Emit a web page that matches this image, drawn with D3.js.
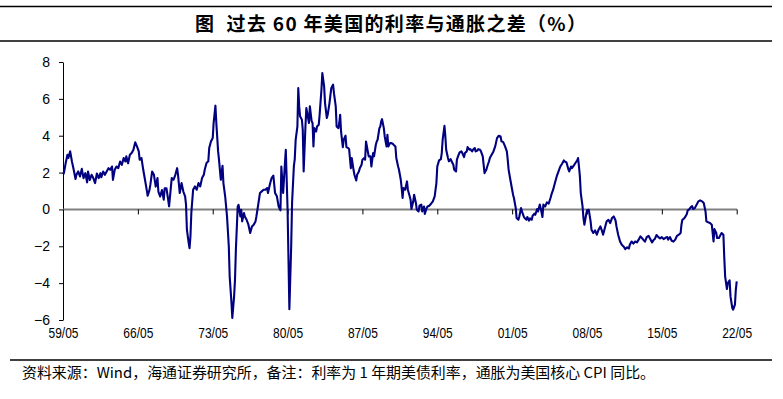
<!DOCTYPE html>
<html><head><meta charset="utf-8">
<script src="https://cdn.jsdelivr.net/npm/d3@7"></script>
<style>body{margin:0;background:#fff}svg{display:block}</style>
</head><body><svg id="c" width="783" height="399"></svg>
<script>
const titleText = "图  过去 60 年美国的利率与通胀之差（%）";
const sourceText = "资料来源：Wind，海通证券研究所，备注：利率为 1 年期美债利率，通胀为美国核心 CPI 同比。";

const dates = [
"1959-05","1959-06","1959-08","1959-10","1959-11",
"1960-01","1960-03","1960-05","1960-07","1960-08","1960-10","1960-12",
"1961-02","1961-04","1961-06","1961-08","1961-09","1961-11",
"1962-01","1962-03","1962-05","1962-07","1962-09","1962-11","1962-12",
"1963-02","1963-04","1963-06","1963-08","1963-10","1963-12",
"1964-01","1964-03","1964-05","1964-07","1964-09","1964-11",
"1965-01","1965-03","1965-04","1965-06","1965-08","1965-10","1965-12",
"1966-02","1966-04","1966-06","1966-07","1966-09","1966-11",
"1967-01","1967-03","1967-04","1967-06","1967-07","1967-09","1967-11",
"1968-01","1968-03","1968-04","1968-06","1968-08","1968-10","1968-11",
"1969-01","1969-03","1969-04","1969-07","1969-09","1969-11",
"1970-01","1970-02","1970-04","1970-06","1970-08","1970-10","1970-11","1970-12",
"1971-02","1971-03","1971-04","1971-05","1971-07","1971-09","1971-11",
"1972-01","1972-03","1972-05","1972-07","1972-08","1972-10","1972-12",
"1973-01","1973-03","1973-05","1973-06","1973-08","1973-09","1973-11","1973-12",
"1974-02","1974-04","1974-05","1974-07","1974-09","1974-11","1974-12",
"1975-02","1975-03","1975-05","1975-06","1975-07","1975-09","1975-10","1975-12",
"1976-01","1976-02","1976-04","1976-05","1976-07","1976-09","1976-11",
"1977-01","1977-03","1977-05","1977-06","1977-08","1977-10","1977-12",
"1978-02","1978-04","1978-06","1978-07","1978-09","1978-11",
"1979-01","1979-03","1979-05","1979-07","1979-09","1979-10","1979-12",
"1980-02","1980-03","1980-05","1980-06","1980-07","1980-09","1980-10","1980-12",
"1981-01","1981-02","1981-04","1981-05","1981-06","1981-07","1981-09","1981-10","1981-11",
"1982-01","1982-02","1982-04","1982-05","1982-06","1982-08","1982-09","1982-10","1982-11",
"1983-01","1983-02","1983-04","1983-05","1983-07","1983-08","1983-10","1983-11",
"1984-01","1984-02","1984-04","1984-06","1984-08","1984-09","1984-11","1984-12",
"1985-02","1985-03","1985-04","1985-05","1985-07","1985-08","1985-10","1985-11",
"1986-01","1986-02","1986-04","1986-05","1986-07","1986-08","1986-10","1986-11",
"1987-01","1987-02","1987-04","1987-05","1987-07","1987-08","1987-09","1987-11","1987-12",
"1988-02","1988-03","1988-05","1988-06","1988-08","1988-09","1988-10","1988-12",
"1989-01","1989-02","1989-03","1989-05","1989-06","1989-08","1989-09","1989-10","1989-12",
"1990-01","1990-03","1990-04","1990-06","1990-07","1990-09","1990-10","1990-12",
"1991-01","1991-02","1991-03","1991-05","1991-07","1991-08","1991-10","1991-11","1991-12",
"1992-02","1992-03","1992-05","1992-06","1992-08","1992-09","1992-11","1992-12",
"1993-02","1993-03","1993-05","1993-06","1993-08","1993-10","1993-12",
"1994-02","1994-04","1994-05","1994-07","1994-09","1994-10","1994-11",
"1995-01","1995-02","1995-03","1995-05","1995-06","1995-08","1995-09","1995-11","1995-12",
"1996-02","1996-03","1996-05","1996-06","1996-08","1996-09","1996-11","1996-12",
"1997-02","1997-03","1997-05","1997-06","1997-08","1997-09","1997-11","1997-12",
"1998-02","1998-03","1998-05","1998-06","1998-08","1998-09","1998-10","1998-12",
"1999-01","1999-03","1999-04","1999-06","1999-08","1999-10","1999-12",
"2000-02","2000-04","2000-05","2000-07","2000-09","2000-11","2000-12",
"2001-01","2001-03","2001-05","2001-06","2001-07","2001-09","2001-10","2001-12",
"2002-01","2002-03","2002-04","2002-06","2002-07","2002-09","2002-10","2002-12",
"2003-01","2003-03","2003-04","2003-06","2003-07","2003-09","2003-10","2003-12",
"2004-01","2004-03","2004-04","2004-06","2004-08","2004-10","2004-12",
"2005-01","2005-03","2005-05","2005-07","2005-09","2005-11",
"2006-01","2006-03","2006-04","2006-06","2006-08","2006-09","2006-11","2006-12",
"2007-02","2007-04","2007-06","2007-07","2007-08","2007-09","2007-10","2007-12",
"2008-01","2008-02","2008-04","2008-05","2008-07","2008-09","2008-10","2008-12",
"2009-02","2009-04","2009-06","2009-08","2009-10","2009-11",
"2010-01","2010-03","2010-05","2010-07","2010-09","2010-11",
"2011-01","2011-02","2011-04","2011-06","2011-08","2011-10","2011-12",
"2012-02","2012-04","2012-05","2012-07","2012-09","2012-11",
"2013-01","2013-03","2013-05","2013-07","2013-08","2013-10","2013-12",
"2014-02","2014-04","2014-06","2014-08","2014-09","2014-11",
"2015-01","2015-03","2015-05","2015-07","2015-09","2015-11","2015-12",
"2016-02","2016-04","2016-06","2016-08","2016-10","2016-12",
"2017-02","2017-03","2017-04","2017-06","2017-07","2017-09","2017-10","2017-12",
"2018-01","2018-03","2018-04","2018-06","2018-08","2018-10","2018-12",
"2019-02","2019-04","2019-06","2019-07","2019-09","2019-11",
"2020-01","2020-03","2020-04","2020-06","2020-07","2020-09","2020-10","2020-12",
"2021-02","2021-03","2021-04","2021-06","2021-07","2021-09","2021-10","2021-12",
"2022-01","2022-03","2022-04","2022-05"
];

const spread = [
1.90,1.97,2.52,2.97,2.79,
3.15,2.60,2.15,1.65,1.88,2.06,1.79,
2.20,1.70,1.97,1.47,2.06,1.60,
1.88,1.70,1.43,1.95,1.70,1.97,1.75,
2.06,1.88,2.06,2.24,2.15,2.33,
1.60,2.15,2.33,2.24,2.60,2.42,
2.79,2.60,2.88,2.50,2.97,3.06,3.24,
3.64,3.42,3.15,2.70,2.79,2.15,
1.60,1.05,0.74,1.05,1.33,2.06,1.88,
1.24,1.70,0.97,0.70,1.05,0.53,1.15,
1.15,0.53,0.17,1.70,1.61,1.88,
2.24,1.88,0.89,1.43,0.97,0.71,0.26,-1.10,
-1.83,-2.10,-1.47,-0.20,1.07,1.25,1.07,
1.43,1.25,1.70,1.88,2.15,2.52,2.61,
3.33,3.69,3.87,4.69,5.63,4.69,3.15,2.70,
1.61,2.37,1.43,0.70,-0.38,-2.00,-3.63,
-5.08,-5.89,-4.72,-3.81,-2.19,0.16,0.25,-0.38,
-0.02,-0.65,-0.20,-0.38,-0.56,-0.83,-1.28,
-0.92,-0.83,-0.65,-0.38,0.25,0.89,0.98,
1.07,1.07,1.16,0.89,1.34,1.70,
1.83,0.89,0.71,0.16,-0.05,2.33,0.89,
2.52,3.24,-0.02,-2.73,-5.41,-2.00,0.35,2.33,
2.73,3.78,4.50,6.58,5.59,5.05,4.87,4.33,2.06,
4.50,5.50,4.96,4.69,5.59,4.78,4.69,3.42,4.41,
4.23,4.50,4.60,5.14,6.49,7.40,6.68,5.77,
4.96,5.14,5.77,6.58,6.77,6.31,5.59,4.50,
4.41,4.69,5.14,4.23,3.38,3.78,4.00,3.38,
3.33,3.27,2.24,2.79,2.15,1.88,1.57,1.88,
2.06,2.24,2.42,2.70,2.79,2.70,3.69,3.15,2.88,
2.88,2.33,3.06,2.88,3.51,3.69,3.78,4.41,
4.50,4.78,4.90,4.41,3.96,3.42,4.05,3.42,3.60,
3.60,3.56,3.51,3.42,2.79,2.33,2.15,1.61,
1.16,0.62,1.16,1.07,1.52,1.07,0.71,0.53,0.02,
0.44,0.80,0.35,-0.02,-0.11,0.20,0.26,-0.11,
0.16,-0.24,0.07,0.16,0.20,0.31,0.44,
0.71,1.43,2.33,2.66,2.73,3.06,3.78,
4.54,3.96,3.24,2.79,2.61,2.73,2.61,2.42,2.15,
2.06,2.70,2.97,3.09,3.15,3.06,2.84,3.06,
3.15,3.38,3.24,3.27,3.15,3.24,3.33,3.15,
3.20,3.27,3.24,3.15,2.88,2.42,1.97,2.15,
2.33,2.60,2.79,2.97,3.15,3.42,3.87,
4.00,3.96,3.70,3.65,3.42,3.15,2.70,
2.15,1.61,1.07,0.80,0.62,0.07,-0.47,-0.56,
-0.38,0.07,-0.11,-0.38,-0.47,-0.56,-0.41,-0.61,
-0.49,-0.56,-0.34,-0.23,-0.29,0.02,-0.11,0.26,
0.07,-0.41,0.26,0.16,0.38,0.31,0.62,
0.80,1.07,1.43,1.79,2.06,2.33,
2.48,2.66,2.60,2.55,2.19,2.06,2.33,2.24,
2.37,2.52,2.66,2.79,2.33,1.79,0.89,0.16,
-0.47,-0.83,-0.29,-0.05,-0.02,-0.65,-1.10,-1.28,
-1.14,-1.37,-1.10,-0.92,-1.19,-1.37,
-1.01,-0.65,-0.56,-0.74,-0.47,-0.38,
-0.60,-0.92,-1.37,-1.73,-1.92,-2.01,-2.15,
-2.06,-2.12,-1.92,-1.74,-1.86,-1.74,
-1.79,-1.64,-1.46,-1.57,-1.64,-1.75,-1.50,
-1.43,-1.61,-1.79,-1.64,-1.61,-1.39,
-1.50,-1.57,-1.50,-1.61,-1.54,-1.50,-1.64,
-1.50,-1.70,-1.75,-1.64,-1.43,-1.37,
-1.28,-0.83,-0.56,-0.49,-0.42,-0.25,-0.05,0.02,
0.10,0.18,0.02,0.07,0.26,0.44,0.49,
0.44,0.35,-0.11,-0.65,-0.70,-0.74,
-0.83,-1.74,-1.07,-1.28,-1.55,-1.55,-1.46,-1.28,
-1.37,-2.55,-3.63,-4.32,-4.00,-3.85,-4.72,-5.35,
-5.44,-5.17,-4.36,-3.90
];

const yTicks = [-6, -4, -2, 0, 2, 4, 6, 8];
const xTickDates = ["1959-05","1966-05","1973-05","1980-05","1987-05","1994-05","2001-05","2008-05","2015-05","2022-05"];
const xTickLabels = ["59/05","66/05","73/05","80/05","87/05","94/05","01/05","08/05","15/05","22/05"];

const parse = d3.timeParse("%Y-%m");
const data = dates.map((d, i) => ({ date: parse(d), value: spread[i] }));

const svg = d3.select("#c");
svg.append("rect").attr("width", 783).attr("height", 399).attr("fill", "#fff");

const x = d3.scaleTime().domain([parse("1959-05"), parse("2022-05")]).range([63, 736.7]);
const y = d3.scaleLinear().domain([-6, 8]).range([320, 62]);

// title rules and title
svg.append("line").attr("x1", 0).attr("x2", 772).attr("y1", 6.5).attr("y2", 6.5).attr("stroke", "#000").attr("stroke-width", 1.4);
svg.append("line").attr("x1", 0).attr("x2", 772).attr("y1", 41).attr("y2", 41).attr("stroke", "#000").attr("stroke-width", 1.4);
svg.append("text")
  .attr("x", 195).attr("y", 31)
  .attr("textLength", 391).attr("lengthAdjust", "spacing")
  .attr("xml:space", "preserve")
  .style("font-family", "'Noto Sans CJK SC', sans-serif")
  .style("font-weight", "bold").style("font-size", "19px")
  .text(titleText);

// y axis
const yAxis = svg.append("g").attr("transform", "translate(63,0)")
  .call(d3.axisLeft(y).tickValues(yTicks).tickSize(4).tickSizeOuter(0).tickPadding(9).tickFormat(d3.format("d")));
yAxis.select(".domain").attr("stroke", "#000").attr("stroke-width", 1);
yAxis.selectAll(".tick line").attr("stroke", "#000");
yAxis.selectAll("text").style("font-family", "'Liberation Sans', Arial, sans-serif").style("font-size", "14px").attr("fill", "#000");

// zero line with ticks
svg.append("line").attr("x1", 63).attr("x2", 737).attr("y1", y(0)).attr("y2", y(0))
  .attr("stroke", "#808080").attr("stroke-width", 2);
const xTicksG = svg.append("g").attr("transform", `translate(0,${y(0)})`)
  .call(d3.axisBottom(x).tickValues(xTickDates.map(parse)).tickSize(5).tickFormat(""));
xTicksG.select(".domain").remove();
xTicksG.selectAll(".tick line").attr("stroke", "#000");

// x labels at bottom
const xLab = svg.append("g").attr("transform", "translate(0,328)")
  .call(d3.axisBottom(x).tickValues(xTickDates.map(parse)).tickSize(0).tickPadding(0)
    .tickFormat((d, i) => xTickLabels[i]));
xLab.select(".domain").remove();
xLab.selectAll("text")
  .style("font-family", "'Liberation Sans', Arial, sans-serif").style("font-size", "14.5px")
  .attr("fill", "#000").attr("textLength", 30).attr("lengthAdjust", "spacingAndGlyphs");

// series line
svg.append("path").datum(data)
  .attr("fill", "none").attr("stroke", "#000080").attr("stroke-width", 2.1)
  .attr("stroke-linejoin", "round")
  .attr("d", d3.line().x(d => x(d.date)).y(d => y(d.value)));

// footer
svg.append("line").attr("x1", 10).attr("x2", 772).attr("y1", 360).attr("y2", 360).attr("stroke", "#000").attr("stroke-width", 1.4);
svg.append("text").attr("x", 22).attr("y", 378)
  .attr("textLength", 633).attr("lengthAdjust", "spacingAndGlyphs")
  .style("font-family", "'Noto Sans CJK SC', sans-serif").style("font-size", "14.5px")
  .text(sourceText);
</script></body></html>
